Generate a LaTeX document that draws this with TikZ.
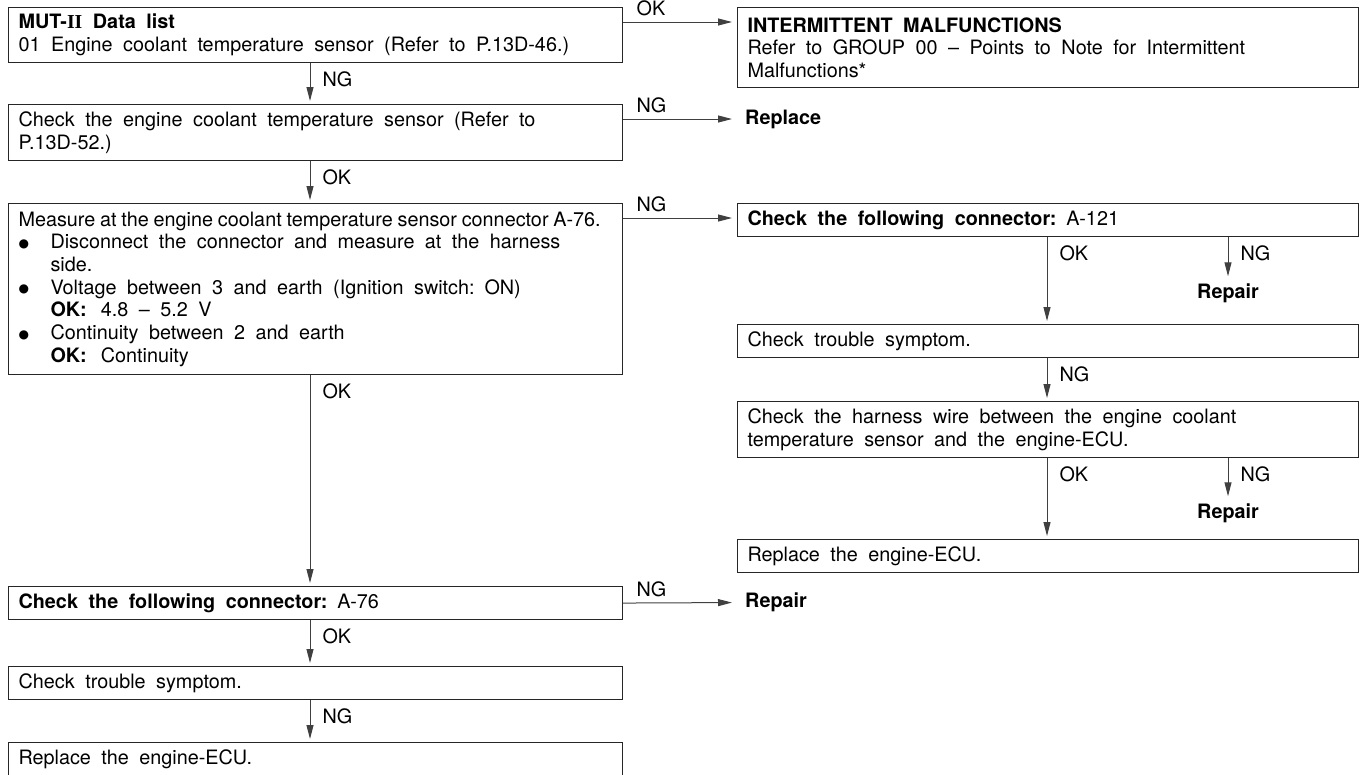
\documentclass[tikz,border=0pt]{standalone}
\usepackage{fontspec}
\setmainfont{TeX Gyre Heros}
\newfontfamily\romanfamily{Liberation Serif}
\newfontfamily\dotfamily{DejaVu Sans}
\usetikzlibrary{arrows.meta}
% text of the boxes: Helvetica-like, with wide word spaces
\newcommand\boxfont{\fontsize{19.8}{22.7}\selectfont}
\newcommand\widespace{\spaceskip=10.5pt plus 2pt minus 1pt\relax}
\newcommand\tightspace{\spaceskip=4.8pt\relax}
% bullet of a check list, with its hanging indent
\newcommand\itemdot{\makebox[32pt][l]{\raisebox{1.2pt}{\dotfamily\fontsize{12}{12}\selectfont ●}}}
\newcommand\itemgap{\hspace*{32pt}}
\begin{document}
\begin{tikzpicture}[x=1pt,y=-1pt,
  txt/.style={font=\boxfont, text=black},
  stepbox/.style={txt, draw=black!85, line width=1.1pt, anchor=north west,
    inner xsep=10pt, inner ysep=0pt, align=left, execute at begin node=\widespace},
  leftbox/.style={stepbox, text width=594pt},
  rightbox/.style={stepbox, text width=601pt},
  result/.style={font=\boxfont\bfseries, inner sep=0pt},
  arr/.style={draw=black!75, line width=1pt, -{Triangle[length=14pt,width=7pt]}, shorten >=3pt},
  vlab/.style={txt, inner sep=0pt, anchor=west, pos=0, xshift=12pt, yshift=-16pt},
  hlab/.style={txt, inner sep=0pt, anchor=west, pos=0, xshift=13pt, yshift=14pt},
]
\useasboundingbox (0,0) rectangle (1363,774);

% columns of the vertical connectors
\coordinate (colL) at (310,0);
\coordinate (colA) at (1047,0);
\coordinate (colB) at (1228,0);

% main column
\node[leftbox, minimum height=55pt] (b1) at (8,7)
  {\textbf{MUT-{\romanfamily II} Data list}\\01 Engine coolant temperature sensor (Refer to P.13D-46.)};
\node[leftbox, minimum height=56pt] (b2) at (8,104)
  {Check the engine coolant temperature sensor (Refer to\\P.13D-52.)};
\node[leftbox, minimum height=171pt] (b3) at (8,203)
  {\mbox{\tightspace Measure at the engine coolant temperature sensor connector A-76.}\\
   \itemdot Disconnect the connector and measure at the harness\\
   \itemgap side.\\
   \itemdot Voltage between 3 and earth (Ignition switch: ON)\\
   \itemgap\textbf{OK:}\hspace{14pt}4.8 – 5.2 V\\
   \itemdot Continuity between 2 and earth\\
   \itemgap\textbf{OK:}\hspace{14pt}Continuity};
\node[leftbox, minimum height=33pt] (b4) at (8,586)
  {\textbf{Check the following connector:} A-76};
\node[leftbox, minimum height=33pt] (b5) at (8,666) {Check trouble symptom.};
\node[leftbox, minimum height=33pt] (b6) at (8,742) {Replace the engine-ECU.};

% right column
\node[rightbox, minimum height=80pt] (r1) at (737,7)
  {\textbf{INTERMITTENT MALFUNCTIONS}\\Refer to GROUP 00 – Points to Note for Intermittent\\Malfunctions*};
\node[rightbox, minimum height=33pt] (r7) at (737,203)
  {\textbf{Check the following connector:} A-121};
\node[rightbox, minimum height=33pt] (r8) at (737,324) {Check trouble symptom.};
\node[rightbox, minimum height=56pt] (r9) at (737,401)
  {Check the harness wire between the engine coolant\\temperature sensor and the engine-ECU.};
\node[rightbox, minimum height=33pt] (r10) at (737,539) {Replace the engine-ECU.};

% outcome texts
\node[result, anchor=west] (rep1) at (745,119) {Replace};
\node[result, anchor=west] (rep4) at (745,602.5) {Repair};
\node[result] (repA) at (1228,293) {Repair};
\node[result] (repB) at (1228,513) {Repair};

% main column flow
\draw[arr] (b1.south -| colL) -- node[vlab]{NG} (b2.north -| colL);
\draw[arr] (b2.south -| colL) -- node[vlab]{OK} (b3.north -| colL);
\draw[arr] (b3.south -| colL) -- node[vlab]{OK} (b4.north -| colL);
\draw[arr] (b4.south -| colL) -- node[vlab]{OK} (b5.north -| colL);
\draw[arr] (b5.south -| colL) -- node[vlab]{NG} (b6.north -| colL);

% branches to the right
\draw[arr, shorten >=5pt] ([yshift=-15pt]b1.north east) -- node[hlab]{OK} ([yshift=-15pt]r1.north west);
\draw[arr, shorten >=13pt] ([yshift=-15pt]b2.north east) -- node[hlab]{NG} (rep1.west);
\draw[arr, shorten >=5pt] ([yshift=-15pt]b3.north east) -- node[hlab]{NG} ([yshift=-15pt]r7.north west);
\draw[arr, shorten >=13pt] (b4.east) -- node[hlab]{NG} (rep4.west);

% right column flow
\draw[arr] (r7.south -| colA) -- node[vlab]{OK} (r8.north -| colA);
\draw[arr, shorten >=7pt] (r7.south -| colB) -- node[vlab]{NG} (repA.north -| colB);
\draw[arr] (r8.south -| colA) -- node[vlab]{NG} (r9.north -| colA);
\draw[arr] (r9.south -| colA) -- node[vlab]{OK} (r10.north -| colA);
\draw[arr, shorten >=7pt] (r9.south -| colB) -- node[vlab]{NG} (repB.north -| colB);
\end{tikzpicture}
\end{document}
